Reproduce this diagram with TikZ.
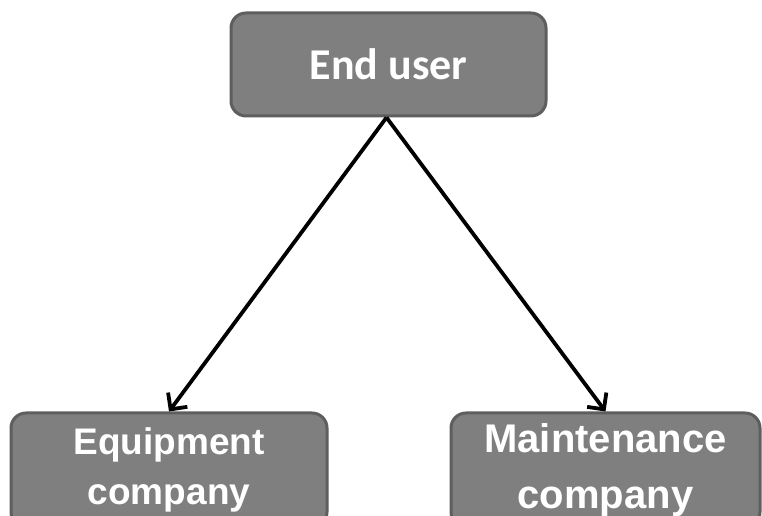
\documentclass[tikz,border=0pt]{standalone}
\usepackage{fontspec}
\setmainfont{Liberation Sans}
\newfontfamily\topfont{Carlito}
\usetikzlibrary{arrows.meta}
\definecolor{boxfill}{HTML}{7F7F7F}
\definecolor{boxline}{HTML}{5E5E5E}
\tikzset{
  box/.style={draw=boxline, fill=boxfill, line width=3pt, rounded corners=15pt,
    text=white, font=\bfseries, align=center, inner sep=0pt},
  conn/.style={line width=3.8pt, -{Straight Barb[length=12pt,width=24pt,line width=3.8pt]}}
}
\begin{document}
\begin{tikzpicture}[x=1pt,y=1pt]
\useasboundingbox (0,0) rectangle (762,516);
\clip (0,0) rectangle (762,516);
\node[box, minimum width=315pt, minimum height=103pt, font=\topfont\bfseries\fontsize{44}{48}\selectfont] (user) at (388.5,451.5) {End user};
\node[box, minimum width=316pt, minimum height=114pt, font=\bfseries\fontsize{37}{50}\selectfont] (equip) at (169,46) {Equipment\\company};
\node[box, minimum width=309pt, minimum height=114pt, font=\bfseries\fontsize{40}{56}\selectfont] (maint) at (605.5,46) {Maintenance\\company};
\draw[conn] (user.south) ++(-2,0) coordinate (s) -- (equip.north);
\draw[conn] (s) -- (maint.north);
\end{tikzpicture}
\end{document}
